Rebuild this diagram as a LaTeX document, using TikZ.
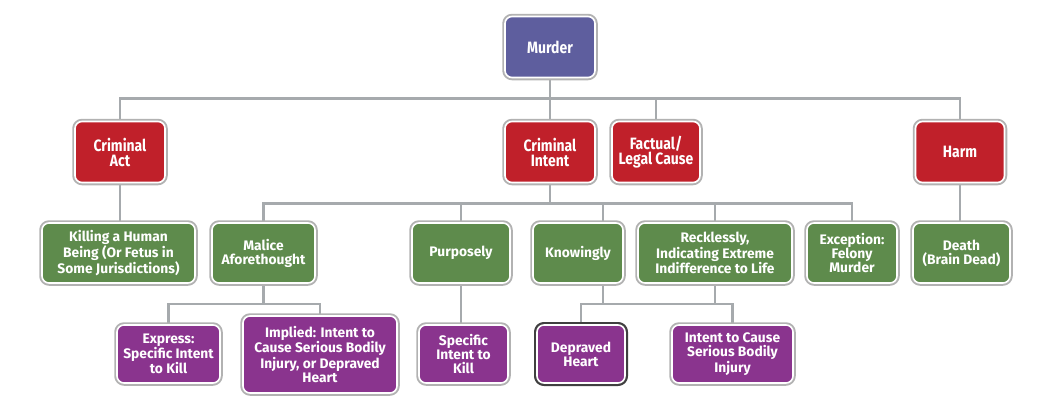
\documentclass[tikz,border=0pt]{standalone}
\usepackage{fontspec}
\setmainfont{Fira Sans}
\newfontfamily\condfont{Fira Sans}[FakeStretch=0.85]
\usetikzlibrary{backgrounds}
\definecolor{murderblue}{RGB}{94,94,158}
\definecolor{elemred}{RGB}{192,32,42}
\definecolor{stepgreen}{RGB}{94,139,76}
\definecolor{leafpurple}{RGB}{138,52,142}
\definecolor{linkgray}{RGB}{166,170,173}
\begin{document}
\begin{tikzpicture}[x=1pt,y=-1pt,line join=round,
  box/.style={rounded corners=7pt,draw=white,line width=1.6pt,text=white,align=center,inner sep=0pt,
    minimum height=60pt,preaction={draw=black!30,line width=5.5pt},font=\bfseries\fontsize{13.8}{14}\selectfont},
  top box/.style={box,minimum width=90pt,minimum height=61pt,font=\condfont\bfseries\fontsize{16.4}{15}\selectfont},
  green box/.style={box,fill=stepgreen},
  leaf box/.style={box,fill=leafpurple,minimum height=58pt},
  link/.style={draw=linkgray,line width=2.6pt}]
\useasboundingbox (0,0) rectangle (1050,402);
% top and elements
\node[top box,fill=murderblue] (murder) at (550,47) {Murder};
\node[top box,fill=elemred] (act) at (120,152) {Criminal\\Act};
\node[top box,fill=elemred] (intent) at (550,152) {Criminal\\Intent};
\node[top box,fill=elemred,minimum width=88pt] (cause) at (656,152) {Factual/\\Legal Cause};
\node[top box,fill=elemred,minimum width=89pt] (harm) at (960,152) {Harm};
% second row
\foreach \n/\x/\w/\t in {killing/118.5/153pt/{Killing a Human\\Being (Or Fetus in\\Some Jurisdictions)},
    malice/263.5/103pt/{Malice\\Aforethought},purposely/461/98pt/Purposely,knowingly/578/90pt/Knowingly,
    reckless/715/154pt/{Recklessly,\\Indicating Extreme\\Indifference to Life},
    felony/852/90pt/{Exception:\\Felony\\Murder},death/961.5/97pt/{Death\\(Brain Dead)}}
  \node[green box,minimum width=\w] (\n) at (\x,253) {\t};
% third row
\foreach \n/\x/\w/\t in {express/168.5/103pt/{Express:\\Specific Intent\\to Kill},
    specific/463.5/89pt/{Specific\\Intent to\\Kill},injury/732.5/121pt/{Intent to Cause\\Serious Bodily\\Injury}}
  \node[leaf box,minimum width=\w] (\n) at (\x,354) {\t};
\node[leaf box,minimum width=154pt,minimum height=77pt] (implied) at (320,354.5)
  {Implied: Intent to\\Cause Serious Bodily\\Injury, or Depraved\\Heart};
\node[leaf box,minimum width=88pt,preaction={draw=black!75,line width=6pt}] (depraved) at (581,354) {Depraved\\Heart};
% connectors
\begin{scope}[on background layer]
  \foreach \n in {act,intent,cause,harm}
    \draw[link] (murder.south) -- ++(0,20) -| (\n.north);
  \draw[link] (act.south) -- (act.south |- killing.north);
  \draw[link] (harm.south) -- (harm.south |- death.north);
  \foreach \n in {malice,purposely,reckless,felony}
    \draw[link] (intent.south) -- ++(0,20) -| (\n.north);
  \draw[link] (intent.south) ++(0,20) -| ([xshift=25pt]knowingly.north);
  \draw[link] (malice.south) -- ++(0,20) -| (express.north);
  \draw[link] (malice.south) ++(0,20) -| (implied.north);
  \draw[link] (purposely.south) -- (purposely.south |- specific.north);
  \draw[link] ([xshift=25pt]knowingly.south) -- ++(0,20) coordinate (kbar) -| (depraved.north);
  \draw[link] (reckless.south) -- ++(0,20) -| (injury.north);
  \draw[link] (kbar) -- (kbar -| injury.north);
\end{scope}
\end{tikzpicture}
\end{document}
